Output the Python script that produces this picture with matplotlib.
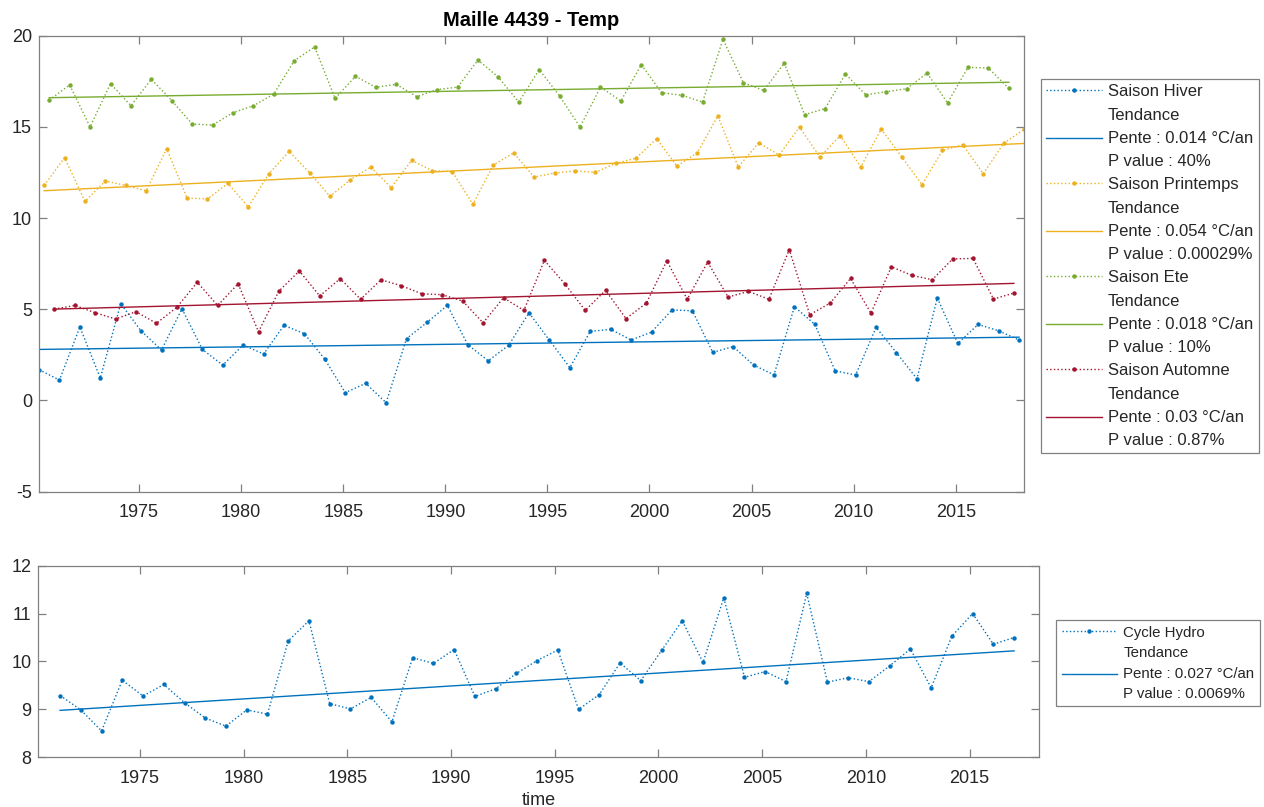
import matplotlib.pyplot as plt
import numpy as np

plt.rcParams['font.family'] = ['Liberation Sans', 'DejaVu Sans']
plt.rcParams['axes.unicode_minus'] = False

# seasonal mean temperatures, one value per year (x = year + season offset)
hiver = [1.69, 1.12, 4.03, 1.23, 5.31, 3.81, 2.77, 5.03, 2.80, 1.94,
         3.04, 2.55, 4.12, 3.66, 2.26, 0.43, 0.94, -0.12, 3.39, 4.28,
         5.21, 3.06, 2.18, 3.02, 4.81, 3.30, 1.80, 3.79, 3.90, 3.32,
         3.75, 4.96, 4.92, 2.64, 2.95, 1.94, 1.41, 5.14, 4.17, 1.62,
         1.40, 4.01, 2.62, 1.19, 5.62, 3.13, 4.17, 3.82, 3.32]
printemps = [11.79, 13.31, 10.92, 12.03, 11.79, 11.50, 13.80, 11.10, 11.05, 11.90,
             10.61, 12.42, 13.66, 12.49, 11.19, 12.10, 12.80, 11.67, 13.17, 12.60,
             12.54, 10.75, 12.91, 13.57, 12.25, 12.47, 12.58, 12.51, 13.00, 13.29,
             14.35, 12.85, 13.59, 15.60, 12.80, 14.13, 13.46, 14.99, 13.35, 14.52,
             12.80, 14.88, 13.37, 11.83, 13.71, 14.02, 12.43, 14.10, 14.86]
ete = [16.47, 17.30, 15.00, 17.37, 16.16, 17.61, 16.44, 15.16, 15.10, 15.78,
       16.16, 16.80, 18.63, 19.38, 16.56, 17.77, 17.17, 17.33, 16.66, 17.04,
       17.18, 18.67, 17.72, 16.36, 18.14, 16.69, 14.99, 17.18, 16.42, 18.41,
       16.87, 16.73, 16.36, 19.80, 17.42, 17.00, 18.50, 15.67, 16.00, 17.90,
       16.75, 16.93, 17.09, 17.95, 16.31, 18.26, 18.23, 17.11]
automne = [5.01, 5.21, 4.81, 4.47, 4.87, 4.23, 5.11, 6.48, 5.21, 6.40,
           3.77, 6.00, 7.10, 5.73, 6.68, 5.55, 6.62, 6.29, 5.85, 5.80,
           5.45, 4.26, 5.63, 4.94, 7.68, 6.40, 4.94, 6.04, 4.49, 5.34,
           7.66, 5.55, 7.59, 5.67, 5.98, 5.55, 8.27, 4.70, 5.34, 6.69,
           4.79, 7.33, 6.86, 6.62, 7.76, 7.79, 5.56, 5.89]
# hydrological year mean
hydro = [9.29, 8.99, 8.55, 9.61, 9.28, 9.52, 9.14, 8.82, 8.65, 8.99,
         8.90, 10.43, 10.85, 9.12, 9.01, 9.25, 8.74, 10.08, 9.96, 10.25,
         9.27, 9.43, 9.75, 10.02, 10.24, 9.00, 9.31, 9.97, 9.60, 10.23,
         10.85, 9.98, 11.33, 9.67, 9.79, 9.58, 11.42, 9.57, 9.66, 9.58,
         9.91, 10.26, 9.45, 10.53, 11.00, 10.36, 10.50]

saisons = ['Hiver', 'Printemps', 'Ete', 'Automne']
offsets = [0.1, 0.35, 0.6, 0.85]
pentes = [0.014, 0.054, 0.018, 0.03]
# trend value at the first point of each series
origines = [2.80, 11.50, 16.60, 5.01]
pvalues = ['40%', '0.00029%', '10%', '0.87%']
couleurs = ['#0072BD', '#EDB120', '#77AC30', '#A2142F']

hydro_pente = 0.027
hydro_origine = 8.98
hydro_pvalue = '0.0069%'

xlim = (1970.1, 2018.35)
axcol = '#808080'
txtcol = '#262626'
fs = 13


def style_axes(ax):
    for s in ax.spines.values():
        s.set_color(axcol)
        s.set_linewidth(0.9)
    ax.tick_params(direction='in', top=True, right=True, length=6,
                   color=axcol, labelcolor=txtcol, labelsize=fs, width=0.9)
    ax.tick_params(axis='x', pad=9)
    ax.tick_params(axis='y', pad=5)
    ax.set_xlim(*xlim)
    ax.set_xticks(np.arange(1975, 2016, 5))


def tendance(x, y0, pente):
    x = np.asarray(x)
    return x, y0 + pente * (x - x[0])


def legende(handles, labels, anchor, taille, interligne, espace, bord, poignee, ecart):
    leg = fig.legend(handles, labels, loc='upper left', bbox_to_anchor=anchor,
                     fontsize=taille, handlelength=poignee, handletextpad=ecart,
                     labelspacing=espace, borderpad=bord, borderaxespad=0,
                     fancybox=False, framealpha=1, edgecolor=axcol)
    leg.get_frame().set_linewidth(0.9)
    for t in leg.get_texts():
        t.set_color(txtcol)
        t.set_linespacing(interligne)
    return leg


fig = plt.figure(figsize=(12.64, 8.07), dpi=100)
ax1 = fig.add_axes([0.0309, 0.3907, 0.7793, 0.5651])
ax2 = fig.add_axes([0.0303, 0.0616, 0.7917, 0.2374])

series = [hiver, printemps, ete, automne]
handles = []
labels = []
for nom, vals, off, p, y0, pv, c in zip(saisons, series, offsets, pentes, origines, pvalues, couleurs):
    x = np.arange(1970, 1970 + len(vals)) + off
    h1, = ax1.plot(x, vals, ':', color=c, lw=1.0, marker='o', ms=3.2, mec='none')
    tx, ty = tendance(x, y0, p)
    h2, = ax1.plot(tx, ty, '-', color=c, lw=1.0)
    handles += [h1, h2]
    labels += ['Saison ' + nom, 'Tendance\nPente : %s °C/an\nP value : %s' % (p, pv)]

style_axes(ax1)
ax1.set_ylim(-5, 20)
ax1.set_yticks([-5, 0, 5, 10, 15, 20])
ax1.set_title('Maille 4439 - Temp', fontsize=14.5, fontweight='bold', color='black', pad=7)

legende(handles, labels, (1041 / 1264, 1 - 79 / 807), 12, 1.68, 0.5, 0.32, 3.35, 0.35)

xh = np.arange(1971, 1971 + len(hydro)) + 0.15
g1, = ax2.plot(xh, hydro, ':', color=couleurs[0], lw=1.0, marker='o', ms=3.2, mec='none')
tx, ty = tendance(xh, hydro_origine, hydro_pente)
g2, = ax2.plot(tx, ty, '-', color=couleurs[0], lw=1.0)

style_axes(ax2)
ax2.set_ylim(8, 12)
ax2.set_yticks([8, 9, 10, 11, 12])
ax2.set_xlabel('time', fontsize=fs, color=txtcol, labelpad=4)

legende([g1, g2],
        ['Cycle Hydro',
         'Tendance\nPente : %s °C/an\nP value : %s' % (hydro_pente, hydro_pvalue)],
        (1056 / 1264, 1 - 620 / 807), 10.8, 1.55, 0.45, 0.38, 3.7, 0.4)

fig.savefig('out.png', dpi=100)
